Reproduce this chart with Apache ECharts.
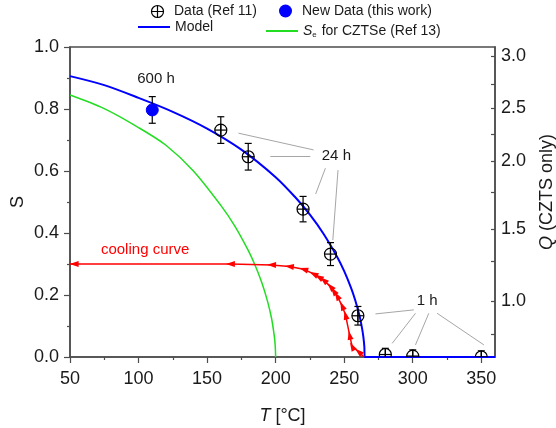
<!DOCTYPE html>
<html><head><meta charset="utf-8">
<script src="https://cdn.jsdelivr.net/npm/echarts@6/dist/echarts.min.js"></script>
<style>html,body{margin:0;padding:0;background:#fff}#c{width:556px;height:428px}</style>
</head><body><div id="c"></div>
<script>
// ---- data ----
const refT = [160, 180, 220, 240, 260, 280, 300, 350];
const refS = [0.732, 0.646, 0.477, 0.332, 0.133, 0.008, 0.003, 0.0];
const refErr = [0.043, 0.043, 0.041, 0.037, 0.03, 0.02, 0.02, 0.02];
const newT = [110];
const newS = [0.797];
const newErr = [0.043];
const modelT = [50, 75, 100, 125, 150, 175, 200, 215, 225, 235, 245, 250, 255, 258, 261, 263, 264, 264.7, 265, 360];
const modelS = [0.906, 0.877, 0.836, 0.791, 0.737, 0.669, 0.580, 0.512, 0.459, 0.397, 0.322, 0.277, 0.223, 0.184, 0.136, 0.093, 0.064, 0.033, 0, 0];
const czseT = [50, 75, 100, 120, 140, 160, 170, 180, 185, 190, 194, 197, 199, 199.7, 200];
const czseS = [0.845, 0.801, 0.740, 0.683, 0.600, 0.489, 0.424, 0.344, 0.296, 0.239, 0.181, 0.125, 0.068, 0.035, 0];
const coolT = [264.5, 260.5, 255.8, 254, 251, 248.5, 244.8, 242.3, 240, 235, 231.5, 227.7, 220.4, 210, 197, 167, 53, 50];
const coolS = [0, 0.017, 0.034, 0.07, 0.135, 0.165, 0.197, 0.213, 0.227, 0.248, 0.258, 0.268, 0.283, 0.292, 0.297, 0.3, 0.3, 0.3];
const xTicks = [50, 100, 150, 200, 250, 300, 350];
const qMajorLabels = ['3.0', '2.5', '2.0', '1.5', '1.0'];
const qMajorAtS = [0.971, 0.804, 0.632, 0.413, 0.181];
const qMinorAtS = [0.88, 0.72, 0.53, 0.31, 0.075];
const annoText = ['600 h', '24 h', '1 h'];
const annoT = [112.7, 244.3, 310.5];
const annoS = [0.896, 0.648, 0.181];
const coolLabel = 'cooling curve';
const coolLabelT = 104.8, coolLabelS = 0.345;
const leaderFrom = [[172.9, 0.722], [196.1, 0.648], [236.3, 0.609], [245.5, 0.603], [272.8, 0.139], [302, 0.141], [311.7, 0.141], [317.8, 0.141]];
const leaderTo = [[227.7, 0.668], [225.3, 0.648], [229.2, 0.526], [241.7, 0.377], [300.8, 0.152], [285, 0.044], [302, 0.039], [351.9, 0.039]];

const FONT = 'Liberation Sans, Arial, sans-serif';
const AX = '#4d4d4d';
const TXT = '#1a1a1a';
const chart = echarts.init(document.getElementById('c'), null, {renderer: 'canvas'});

function errMarker(fill) {
  return function (params, api) {
    const x = api.value(0), y = api.value(1), e = api.value(2);
    const c = api.coord([x, y]), t = api.coord([x, y + e]), b = api.coord([x, y - e]);
    const r = 6, w = 3.5, st = {stroke: '#000', lineWidth: 1.2};
    const ch = [
      {type: 'line', shape: {x1: c[0], y1: t[1], x2: c[0], y2: b[1]}, style: st},
      {type: 'line', shape: {x1: c[0] - w, y1: t[1], x2: c[0] + w, y2: t[1]}, style: st},
      {type: 'line', shape: {x1: c[0] - w, y1: b[1], x2: c[0] + w, y2: b[1]}, style: st}
    ];
    if (fill) {
      ch.push({type: 'circle', shape: {cx: c[0], cy: c[1], r: r}, style: {fill: fill, stroke: fill}});
    } else {
      ch.push({type: 'circle', shape: {cx: c[0], cy: c[1], r: r}, style: {fill: 'none', stroke: '#000', lineWidth: 1.2}});
      ch.push({type: 'line', shape: {x1: c[0] - r, y1: c[1], x2: c[0] + r, y2: c[1]}, style: st});
      ch.push({type: 'line', shape: {x1: c[0], y1: c[1] - r, x2: c[0], y2: c[1] + r}, style: st});
    }
    return {type: 'group', children: ch};
  };
}

const coolData = coolT.map((t, i) => ({value: [t, coolS[i]], symbol: 'none'}));

const legendText = {fontFamily: FONT, fontSize: 14, color: TXT, lineHeight: 16};
const option = {
  animation: false,
  backgroundColor: '#fff',
  grid: {left: 70, right: 61, top: 47, bottom: 71, outerBoundsMode: 'none', containLabel: false,
         show: true, borderColor: AX, borderWidth: 1.5, backgroundColor: 'transparent'},
  legend: [
    {left: 149, top: 3, padding: 0, itemWidth: 23, itemHeight: 12, textStyle: legendText, selectedMode: false,
     data: [{name: 'Data (Ref 11)', icon: 'path://M12,0 A12,12 0 1,1 -12,0 A12,12 0 1,1 12,0 Z M-12,0 L12,0 M0,-12 L0,12',
             itemStyle: {color: 'none', borderColor: '#000', borderWidth: 1.2}}]},
    {left: 279, top: 3, padding: 0, itemWidth: 23, itemHeight: 13, textStyle: legendText, selectedMode: false,
     data: [{name: 'New Data (this work)', icon: 'circle', itemStyle: {color: '#0000ff'}}]},
    {left: 138, top: 19, padding: 0, itemWidth: 32, itemHeight: 2, symbolKeepAspect: false, textStyle: legendText, selectedMode: false,
     data: [{name: 'Model', icon: 'rect', itemStyle: {color: '#0000ff'}}]},
    {left: 266, top: 19, padding: 0, itemWidth: 32, itemHeight: 2, symbolKeepAspect: false, selectedMode: false,
     textStyle: Object.assign({}, legendText, {rich: {
       i: {fontFamily: FONT, fontSize: 14, fontStyle: 'italic', color: TXT, lineHeight: 16},
       s: {fontFamily: FONT, fontSize: 8, color: TXT, lineHeight: 16, verticalAlign: 'bottom', padding: [12, 1, 0, 0]},
       n: {fontFamily: FONT, fontSize: 14, color: TXT, lineHeight: 16}
     }}),
     formatter: () => '{i|S}{s|e}{n| for CZTSe (Ref 13)}',
     data: [{name: 'Se for CZTSe (Ref 13)', icon: 'rect', itemStyle: {color: '#22dd22'}}]}
  ],
  xAxis: [{
    type: 'value', min: 50, max: 360, interval: 50,
    name: '{i|T} [°C]', nameLocation: 'middle', nameGap: 50,
    nameTextStyle: {fontFamily: FONT, fontSize: 18, color: TXT, rich: {i: {fontFamily: FONT, fontSize: 18, fontStyle: 'italic', color: TXT}}},
    axisLine: {onZero: false, lineStyle: {color: AX, width: 1.5}},
    axisTick: {length: 6, lineStyle: {color: AX, width: 1.2}, customValues: xTicks},
    minorTick: {show: true, splitNumber: 2, length: 3, lineStyle: {color: AX, width: 1.2}},
    axisLabel: {fontFamily: FONT, fontSize: 18, color: TXT, margin: 13, customValues: xTicks},
    splitLine: {show: false}
  }],
  yAxis: [{
    type: 'value', min: 0, max: 1, interval: 0.2, position: 'left',
    name: 'S', nameLocation: 'middle', nameGap: 43, nameRotate: 90, nameMoveOverlap: false,
    nameTextStyle: {fontFamily: FONT, fontSize: 18, color: TXT},
    axisLine: {show: true, onZero: false, lineStyle: {color: AX, width: 1.5}},
    axisTick: {length: 6, lineStyle: {color: AX, width: 1.2}},
    minorTick: {show: true, splitNumber: 2, length: 3, lineStyle: {color: AX, width: 1.2}},
    axisLabel: {fontFamily: FONT, fontSize: 18, color: TXT, margin: 11, formatter: v => v.toFixed(1)},
    splitLine: {show: false}
  }, {
    type: 'value', min: 0, max: 1, position: 'right',
    name: '    {i|Q} (CZTS only)', nameLocation: 'middle', nameGap: 43, nameRotate: 90,
    nameTextStyle: {fontFamily: FONT, fontSize: 18, color: TXT, rich: {i: {fontFamily: FONT, fontSize: 18, fontStyle: 'italic', color: TXT}}},
    axisLine: {show: true, onZero: false, lineStyle: {color: AX, width: 1.5}},
    axisTick: {inside: true, length: 4, lineStyle: {color: AX, width: 1.2}, customValues: qMajorAtS.concat(qMinorAtS)},
    axisLabel: {fontFamily: FONT, fontSize: 18, color: TXT, margin: 6, customValues: qMajorAtS,
      formatter: v => { let k = 0, d = 9; qMajorAtS.forEach((s, i) => { if (Math.abs(s - v) < d) { d = Math.abs(s - v); k = i; } }); return qMajorLabels[k]; }},
    splitLine: {show: false}
  }],
  series: [
    {type: 'line', name: 'Se for CZTSe (Ref 13)', data: czseT.map((t, i) => [t, czseS[i]]), symbol: 'none', smooth: 0.3,
     lineStyle: {color: '#22dd22', width: 1.5}, itemStyle: {color: '#22dd22'}, z: 3},
    {type: 'line', name: 'Model', data: modelT.map((t, i) => [t, modelS[i]]), symbol: 'none', smooth: 0.3,
     lineStyle: {color: '#0000ff', width: 2}, itemStyle: {color: '#0000ff'}, z: 4},
    {type: 'line', name: 'cooling', data: coolData, symbolSize: [6, 9], smooth: false,
     lineStyle: {color: '#ff0000', width: 1.5}, itemStyle: {color: '#ff0000', opacity: 1}, z: 5},
    {type: 'scatter', name: 'leaders', data: [], silent: true,
     markLine: {silent: true, symbol: 'none', animation: false, label: {show: false},
       lineStyle: {color: '#a6a6a6', width: 1, type: 'solid'},
       data: leaderFrom.map((p, i) => [{coord: p}, {coord: leaderTo[i]}])}},
    {type: 'scatter', name: 'annotations', symbolSize: 0, silent: true, itemStyle: {opacity: 1},
     data: annoT.map((t, i) => ({value: [t, annoS[i]], label: {formatter: annoText[i]}})),
     label: {show: true, position: 'inside', fontFamily: FONT, fontSize: 15, color: TXT, opacity: 1}},
    {type: 'scatter', name: 'coolLabel', symbolSize: 0, silent: true, itemStyle: {opacity: 1},
     data: [{value: [coolLabelT, coolLabelS], label: {formatter: coolLabel}}],
     label: {show: true, position: 'inside', fontFamily: FONT, fontSize: 15, color: '#ff0000', opacity: 1}},
    {type: 'custom', name: 'Data (Ref 11)', clip: true, renderItem: errMarker(null), z: 6,
     data: refT.map((t, i) => [t, refS[i], refErr[i]]), encode: {x: 0, y: 1}, itemStyle: {color: '#000'}},
    {type: 'custom', name: 'New Data (this work)', clip: true, renderItem: errMarker('#0000ff'), z: 6,
     data: newT.map((t, i) => [t, newS[i], newErr[i]]), encode: {x: 0, y: 1}, itemStyle: {color: '#0000ff'}}
  ]
};
chart.setOption(option);

// orient arrow heads along the cooling path using the chart's own scales
const px = coolT.map((t, i) => chart.convertToPixel({gridIndex: 0}, [t, coolS[i]]));
const arrowData = coolT.map((t, i) => {
  if (i === 0 || i === coolT.length - 1) return {value: [t, coolS[i]], symbol: 'none'};
  const dx = px[i + 1][0] - px[i - 1][0], dy = px[i + 1][1] - px[i - 1][1];
  const ang = Math.atan2(-dy, dx) * 180 / Math.PI - 90;
  return {value: [t, coolS[i]], symbol: 'triangle', symbolRotate: ang};
});
chart.setOption({series: [{}, {}, {data: arrowData}]});
</script></body></html>
